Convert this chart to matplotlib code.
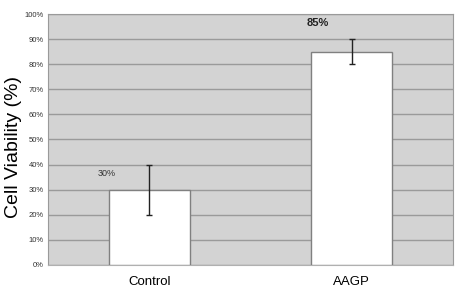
import matplotlib
matplotlib.use("Agg")
import matplotlib.pyplot as plt
import numpy as np

plt.rcParams["font.family"] = ["Liberation Sans", "DejaVu Sans"]

categories = ["Control", "AAGP"]
values = [30, 85]
err_low = [10, 5]
err_high = [10, 5]
labels = ["30%", "85%"]
yticks = [0, 10, 20, 30, 40, 50, 60, 70, 80, 90, 100]

fig = plt.figure(figsize=(4.6, 3.0), dpi=100)
ax = fig.add_axes([0.104, 0.117, 0.881, 0.836])
ax.set_facecolor("#d3d3d3")
x = np.arange(len(categories))
ax.bar(x, values, width=0.4, color="white", edgecolor="#808080", linewidth=1.0, zorder=3)
ax.errorbar(x, values, yerr=[err_low, err_high], fmt="none", ecolor="#222222",
            elinewidth=1.0, capsize=2.5, capthick=1.0, zorder=4)
ax.set_xlim(-0.5, 1.5)
ax.set_ylim(0, 100)
ax.set_yticks(yticks)
ax.set_yticklabels([f"{t}%" for t in yticks], fontsize=5.5, color="#333333")
ax.yaxis.grid(True, color="#9a9a9a", linewidth=1.0, zorder=0)
ax.set_axisbelow(True)
ax.tick_params(axis="y", length=0, pad=3)
ax.tick_params(axis="x", length=0, pad=8)
ax.set_xticks(x)
ax.set_xticklabels(categories, fontsize=9.5)
for s in ["top", "right", "left"]:
    ax.spines[s].set_color("#9a9a9a")
ax.spines["bottom"].set_color("#b0b0b0")
fig.text(14 / 460, 0.51, "Cell Viability (%)", fontsize=14, rotation=90,
         ha="center", va="center")

ax.text(x[0] - 0.21, 36.5, labels[0], fontsize=6.5, ha="center", va="center", color="#333333")
ax.text(x[1] - 0.17, 96.3, labels[1], fontsize=8, fontweight="bold", ha="center", va="center", color="#222222")

fig.savefig("out.png", dpi=100)
